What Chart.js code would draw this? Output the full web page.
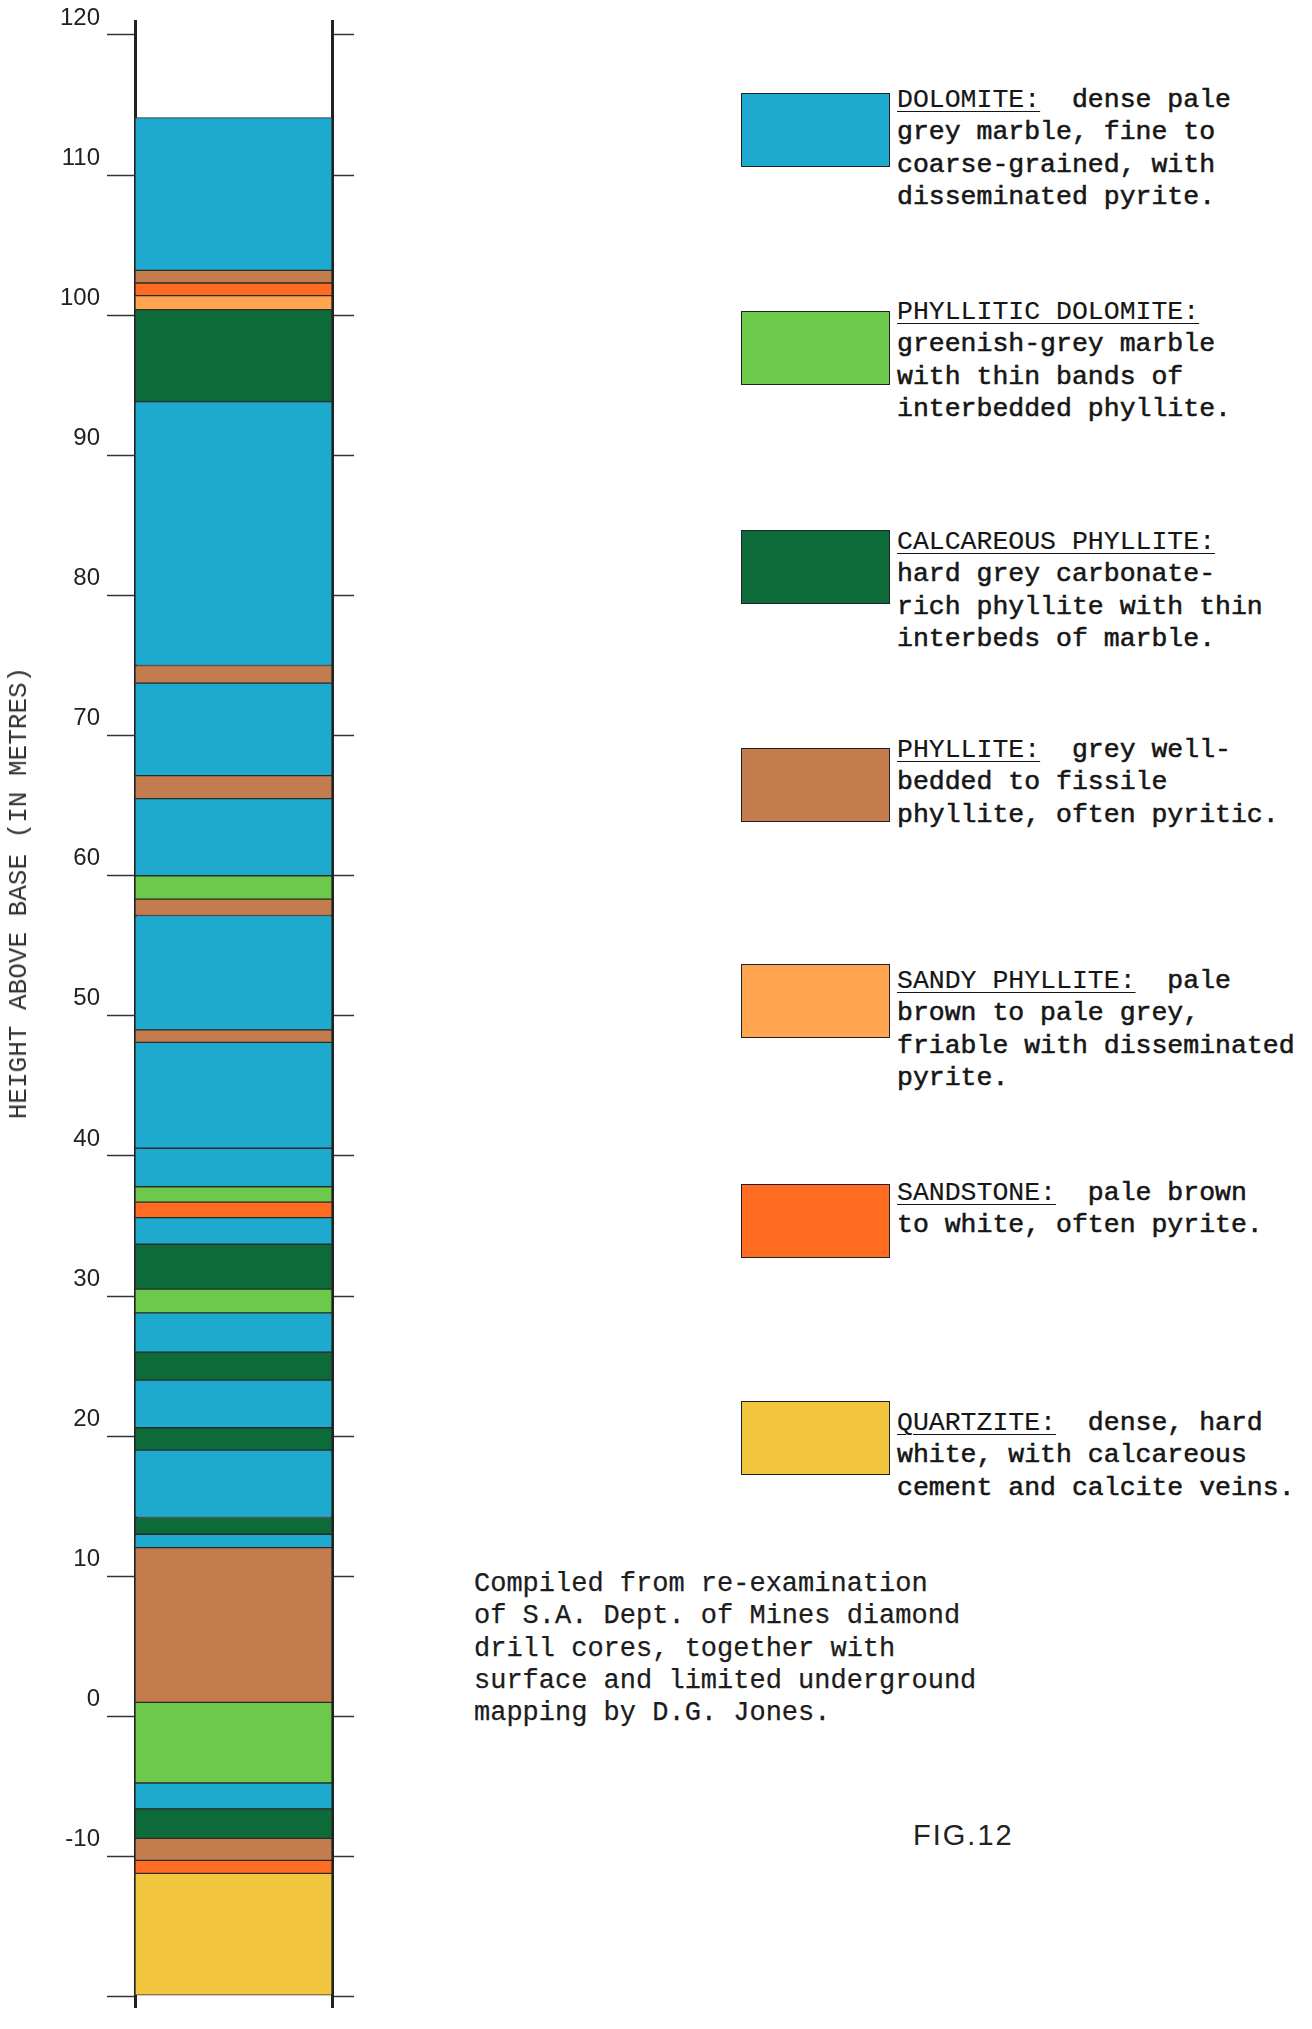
<!DOCTYPE html>
<html>
<head>
<meta charset="utf-8">
<script src="https://cdn.jsdelivr.net/npm/chart.js@4/dist/chart.umd.min.js"></script>
<style>
  html, body { margin:0; padding:0; background:#fff; width:1312px; height:2029px; overflow:hidden; }
  body { position:relative; }
  #wrap { position:absolute; left:0; top:0; width:356px; height:2029px; }
  .ytitle { position:absolute; left:19px; top:893px; transform:translate(-50%,-50%) rotate(-90deg);
            font-family:'Liberation Mono',monospace; font-size:26px; color:#333; white-space:nowrap; }
  .sw { position:absolute; left:741px; width:149px; height:74px; border:1.5px solid #222; box-sizing:border-box; }
  .lt { position:absolute; left:897px; font-family:'Liberation Mono',monospace; font-size:26.5px; line-height:32.3px;
        color:#161616; white-space:pre; -webkit-text-stroke:0.55px #161616; }
  .lt .ttl { text-decoration:underline; text-decoration-thickness:1.2px; text-underline-offset:4px; -webkit-text-stroke:0.15px #161616; }
  .note { position:absolute; left:474px; top:1568px; font-family:'Liberation Mono',monospace; font-size:27px; line-height:32.3px;
          color:#1c1c1c; white-space:pre; -webkit-text-stroke:0.25px #1c1c1c; }
  .fig { position:absolute; left:913px; top:1819px; font-family:'Liberation Sans',Arial,sans-serif; font-size:29px;
         letter-spacing:2px; color:#222; }
</style>
</head>
<body>
<div id="wrap"><canvas id="c"></canvas></div>
<div class="ytitle">HEIGHT ABOVE BASE (IN METRES)</div>
<div id="legend"></div>
<div class="note">Compiled from re-examination
of S.A. Dept. of Mines diamond
drill cores, together with
surface and limited underground
mapping by D.G. Jones.</div>
<div class="fig">FIG.12</div>
<script>
// ---- Data ----
const rockTypes = ['DOLOMITE', 'PHYLLITIC DOLOMITE', 'CALCAREOUS PHYLLITE', 'PHYLLITE', 'SANDY PHYLLITE', 'SANDSTONE', 'QUARTZITE'];
const rockColors = ['#1ea9cf', '#6cc94c', '#0d6a39', '#c27c4e', '#ffa54f', '#ff6b21', '#f1c63e'];

// layers, bottom to top (metres above base)
const layerBase = [-19.9, -11.2, -10.27, -8.7, -6.6, -4.75, 1.0, 12.05, 13.0, 14.2, 19.0, 20.6, 24.0, 26.0, 28.8, 30.5, 33.7, 35.6, 36.7, 37.8, 40.55, 48.1, 49.0, 57.16, 58.33, 60.0, 65.5, 67.14, 73.74, 75.0, 93.83, 100.4, 101.4, 102.3, 103.2];
const layerTop  = [-11.2, -10.27, -8.7, -6.6, -4.75, 1.0, 12.05, 13.0, 14.2, 19.0, 20.6, 24.0, 26.0, 28.8, 30.5, 33.7, 35.6, 36.7, 37.8, 40.55, 48.1, 49.0, 57.16, 58.33, 60.0, 65.5, 67.14, 73.74, 75.0, 93.83, 100.4, 101.4, 102.3, 103.2, 114.1];
const layerRock = ['QUARTZITE', 'SANDSTONE', 'PHYLLITE', 'CALCAREOUS PHYLLITE', 'DOLOMITE', 'PHYLLITIC DOLOMITE', 'PHYLLITE',
  'DOLOMITE', 'CALCAREOUS PHYLLITE', 'DOLOMITE', 'CALCAREOUS PHYLLITE', 'DOLOMITE', 'CALCAREOUS PHYLLITE', 'DOLOMITE',
  'PHYLLITIC DOLOMITE', 'CALCAREOUS PHYLLITE', 'DOLOMITE', 'SANDSTONE', 'PHYLLITIC DOLOMITE', 'DOLOMITE', 'DOLOMITE',
  'PHYLLITE', 'DOLOMITE', 'PHYLLITE', 'PHYLLITIC DOLOMITE', 'DOLOMITE', 'PHYLLITE', 'DOLOMITE', 'PHYLLITE', 'DOLOMITE',
  'CALCAREOUS PHYLLITE', 'SANDY PHYLLITE', 'SANDSTONE', 'PHYLLITE', 'DOLOMITE'];

const tickValues = [120, 110, 100, 90, 80, 70, 60, 50, 40, 30, 20, 10, 0, -10, -20];
const tickLabels = ['120', '110', '100', '90', '80', '70', '60', '50', '40', '30', '20', '10', '0', '-10', ''];

const legendTitles = ['DOLOMITE:', 'PHYLLITIC DOLOMITE:', 'CALCAREOUS PHYLLITE:', 'PHYLLITE:', 'SANDY PHYLLITE:', 'SANDSTONE:', 'QUARTZITE:'];
const legendText = [
  '  dense pale\ngrey marble, fine to\ncoarse-grained, with\ndisseminated pyrite.',
  '\ngreenish-grey marble\nwith thin bands of\ninterbedded phyllite.',
  '\nhard grey carbonate-\nrich phyllite with thin\ninterbeds of marble.',
  '  grey well-\nbedded to fissile\nphyllite, often pyritic.',
  '  pale\nbrown to pale grey,\nfriable with disseminated\npyrite.',
  '  pale brown\nto white, often pyrite.',
  '  dense, hard\nwhite, with calcareous\ncement and calcite veins.'
];

// ---- Layout (positions only) ----
const swatchTop = [93, 311, 530, 748, 964, 1184, 1401];
const textTop = [84, 296, 526, 734, 965, 1177, 1407];

const legend = document.getElementById('legend');
rockTypes.forEach((r, i) => {
  const sw = document.createElement('div');
  sw.className = 'sw';
  sw.style.top = swatchTop[i] + 'px';
  sw.style.background = rockColors[i];
  legend.appendChild(sw);
  const t = document.createElement('div');
  t.className = 'lt';
  t.style.top = textTop[i] + 'px';
  const s = document.createElement('span');
  s.className = 'ttl';
  s.textContent = legendTitles[i];
  t.appendChild(s);
  t.appendChild(document.createTextNode(legendText[i]));
  legend.appendChild(t);
});

const colorOf = name => rockColors[rockTypes.indexOf(name)];
const datasets = layerBase.map((b, i) => ({
  label: layerRock[i],
  data: [[b, layerTop[i]]],
  backgroundColor: colorOf(layerRock[i]),
  borderColor: '#2b2b2b',
  borderWidth: 1,
  borderSkipped: false,
  grouped: false,
  barPercentage: 1,
  categoryPercentage: 1
}));

const yMin = -20.78, yMax = 120.97;
const baseAxis = {
  type: 'linear', min: yMin, max: yMax, bounds: 'data',
  afterBuildTicks: s => { s.ticks = tickValues.map(v => ({ value: v })); },
  grid: { drawOnChartArea: false, drawTicks: true, tickColor: '#333', tickWidth: 1.5 },
  border: { display: true, color: '#222', width: 3 }
};

new Chart(document.getElementById('c'), {
  type: 'bar',
  data: { labels: ['core'], datasets },
  options: {
    responsive: true, maintainAspectRatio: false, animation: false,
    layout: { padding: { top: 18, bottom: 0, left: 0, right: 0 } },
    plugins: { legend: { display: false }, tooltip: { enabled: false } },
    scales: {
      x: { display: false },
      y: Object.assign({}, baseAxis, {
        position: 'left',
        afterFit: s => { s.width = 135; },
        grid: Object.assign({}, baseAxis.grid, { tickLength: 28 }),
        ticks: { autoSkip: false, callback: (v, i) => tickLabels[i], color: '#222', padding: 7, labelOffset: -17,
                 font: { family: "'Liberation Sans', Arial, sans-serif", size: 24 } }
      }),
      y2: Object.assign({}, baseAxis, {
        position: 'right',
        afterFit: s => { s.width = 24; },
        grid: Object.assign({}, baseAxis.grid, { tickLength: 22 }),
        ticks: { display: false }
      })
    }
  }
});
</script>
</body>
</html>
